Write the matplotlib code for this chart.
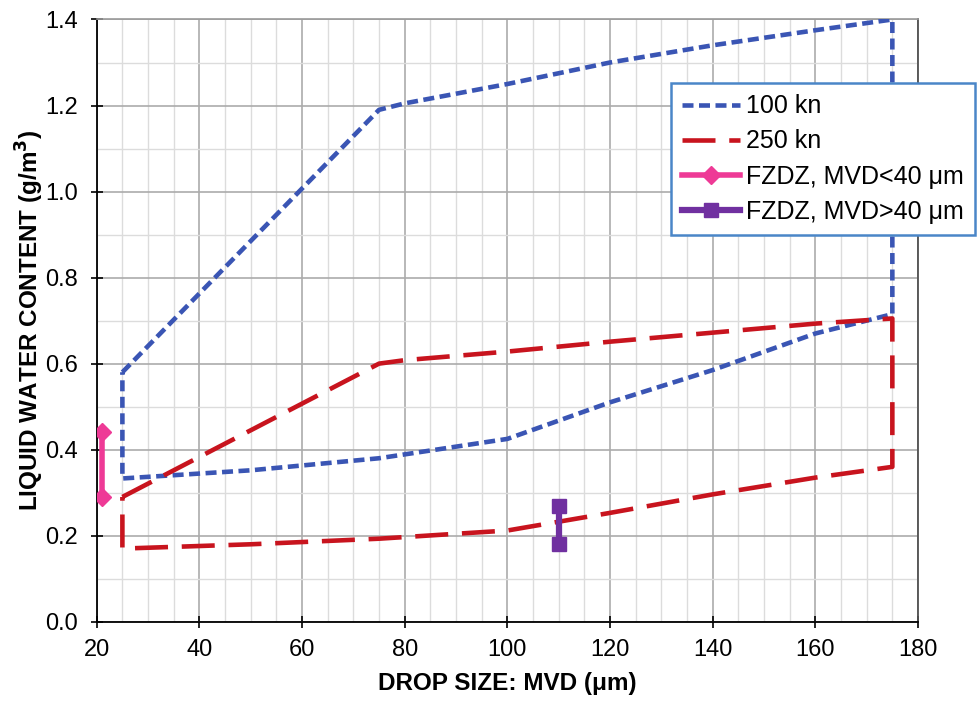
import matplotlib

matplotlib.use("Agg")

import matplotlib.pyplot as plt
from matplotlib.ticker import MultipleLocator, FormatStrFormatter

plt.rcParams["font.family"] = ["Liberation Sans", "DejaVu Sans"]

# 100 kn envelope (closed outline: upper edge, right side, lower edge back)
kn100_x = [25, 75, 80, 100, 120, 140, 160, 175, 175, 160, 140, 120, 100, 75, 50, 25, 25]
kn100_y = [0.58, 1.19, 1.205, 1.25, 1.30, 1.34, 1.375, 1.40,
           0.715, 0.67, 0.585, 0.51, 0.425, 0.38, 0.352, 0.333, 0.58]

# 250 kn envelope
kn250_x = [25, 75, 80, 100, 120, 140, 160, 175, 175, 160, 140, 120, 100, 75, 50, 25, 25]
kn250_y = [0.29, 0.60, 0.608, 0.628, 0.651, 0.672, 0.693, 0.705,
           0.36, 0.335, 0.296, 0.253, 0.212, 0.193, 0.18, 0.17, 0.29]

# FZDZ ranges
fzdz_small_x = [21, 21]
fzdz_small_y = [0.29, 0.44]
fzdz_large_x = [110, 110]
fzdz_large_y = [0.18, 0.27]

labels = ["100 kn", "250 kn", "FZDZ, MVD<40 μm", "FZDZ, MVD>40 μm"]

BLUE = "#3A55B4"
RED = "#C8141E"
PINK = "#EE3A96"
PURPLE = "#7030A0"

fig = plt.figure(figsize=(9.79, 7.01), dpi=100)
ax = fig.add_axes([0.0988, 0.1131, 0.8389, 0.8591])

ax.plot(kn100_x, kn100_y, color=BLUE, lw=3.3, dashes=(2.4, 1.2),
        dash_capstyle="butt", label=labels[0], zorder=3)
ax.plot(kn250_x, kn250_y, color=RED, lw=3.3, dashes=(7.2, 3.0),
        dash_capstyle="butt", label=labels[1], zorder=3)
ax.plot(fzdz_small_x, fzdz_small_y, color=PINK, lw=4.0, marker="D",
        markersize=9.5, label=labels[2], zorder=4)
ax.plot(fzdz_large_x, fzdz_large_y, color=PURPLE, lw=4.5, marker="s",
        markersize=10, label=labels[3], zorder=4)

ax.set_xlim(20, 180)
ax.set_ylim(0, 1.4)
ax.xaxis.set_major_locator(MultipleLocator(20))
ax.xaxis.set_minor_locator(MultipleLocator(5))
ax.yaxis.set_major_locator(MultipleLocator(0.2))
ax.yaxis.set_minor_locator(MultipleLocator(0.1))
ax.yaxis.set_major_formatter(FormatStrFormatter("%.1f"))

ax.grid(which="major", color="#ABABAB", lw=1.2)
ax.grid(which="minor", color="#DCDCDC", lw=1.0)
ax.set_axisbelow(True)

ax.tick_params(which="major", direction="inout", length=9, width=1.2,
               labelsize=17, colors="black")
ax.tick_params(axis="y", pad=9)
ax.tick_params(axis="x", pad=8)
ax.tick_params(which="minor", length=0)

for side in ("left", "bottom"):
    ax.spines[side].set_color("black")
    ax.spines[side].set_linewidth(1.3)
ax.spines["right"].set_color("#505050")
ax.spines["right"].set_linewidth(1.3)
ax.spines["top"].set_color("#9A9A9A")
ax.spines["top"].set_linewidth(1.2)

ax.set_xlabel("DROP SIZE: MVD (μm)", fontsize=17.5, fontweight="bold", labelpad=8)
ax.set_ylabel("LIQUID WATER CONTENT (g/m$^\\mathbf{3}$)", fontsize=17.5,
              fontweight="bold", labelpad=-1)

leg = ax.legend(loc="upper right", bbox_to_anchor=(975 / 979, 1 - 83 / 701),
                bbox_transform=fig.transFigure, fontsize=18, frameon=True,
                fancybox=False, handlelength=2.3, handletextpad=0.25,
                borderpad=0.45, labelspacing=0.45, borderaxespad=0)
leg.get_frame().set_edgecolor("#4A86C8")
leg.get_frame().set_linewidth(1.8)
leg.get_frame().set_alpha(1)
leg.set_zorder(10)

fig.savefig("out.png", dpi=100)
